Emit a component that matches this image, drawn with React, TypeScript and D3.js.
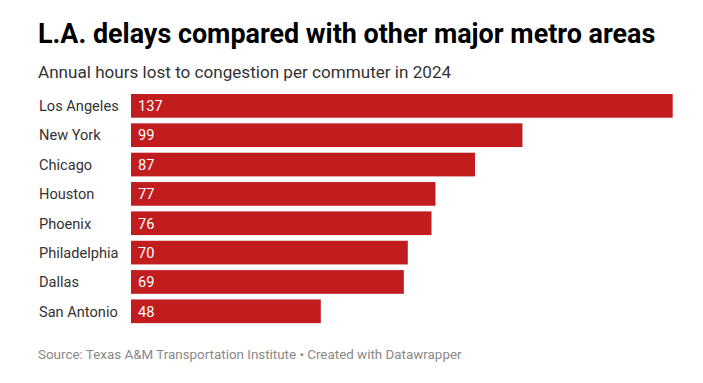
import React from "react";
import * as d3 from "d3";

const cities = ["Los Angeles", "New York", "Chicago", "Houston", "Phoenix", "Philadelphia", "Dallas", "San Antonio"];
const hours = [137, 99, 87, 77, 76, 70, 69, 48];

const W = 703;
const H = 383;

export default function App() {
  const x = d3.scaleLinear().domain([0, 137]).range([131, 672.7]);
  const font = "Roboto, 'Noto Sans', sans-serif";
  return (
    <svg width={W} height={H} style={{ position: "absolute", left: 0, top: 0, background: "#fff" }} fontFamily={font}>
      <text x={38} y={43} fontSize={26.9} fontWeight={700} fill="#000">L.A. delays compared with other major metro areas</text>
      <text x={38} y={78} fontSize={17.1} fill="#333">Annual hours lost to congestion per commuter in 2024</text>
      {cities.map((c, i) => {
        const yy = 94 + i * 29.35;
        return (
          <g key={c}>
            <text x={39} y={yy + 12} dy="0.35em" fontSize={14.6} fill="#333">{c}</text>
            <rect x={x(0)} y={yy} width={x(hours[i]) - x(0)} height={23.7} fill="#c11d1e" />
            <text x={x(0) + 7} y={yy + 12} dy="0.35em" fontSize={14.6} fill="#fff">{hours[i]}</text>
          </g>
        );
      })}
      <text x={38} y={359} fontSize={13.4} fill="#888">Source: Texas A&amp;M Transportation Institute • Created with Datawrapper</text>
    </svg>
  );
}
